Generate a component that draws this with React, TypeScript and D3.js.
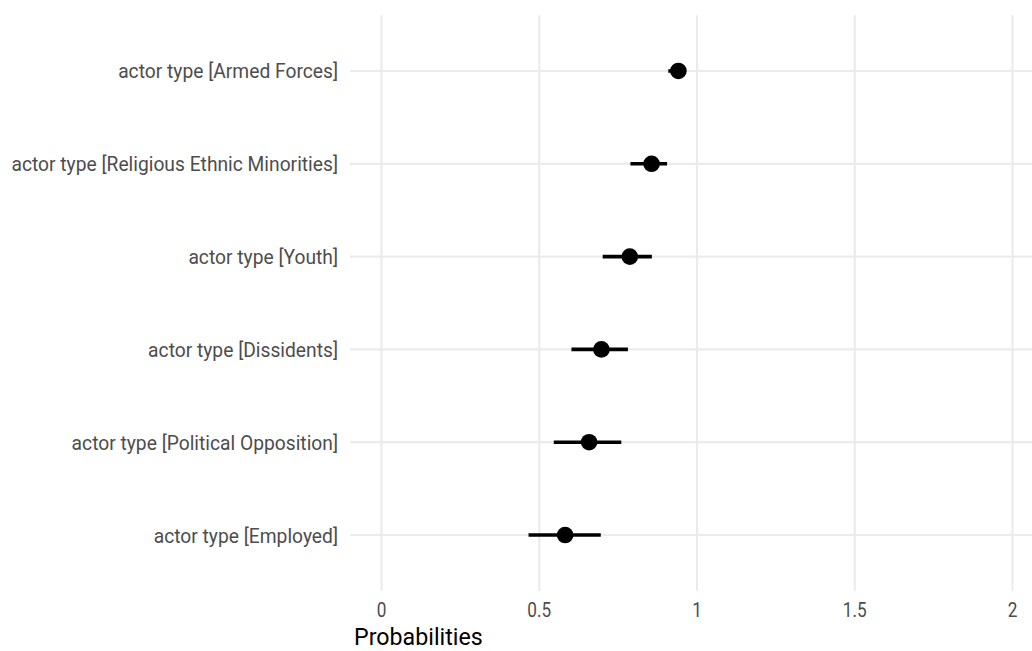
import React from "react";
import * as d3 from "d3";

const categories = [
  "actor type [Armed Forces]",
  "actor type [Religious Ethnic Minorities]",
  "actor type [Youth]",
  "actor type [Dissidents]",
  "actor type [Political Opposition]",
  "actor type [Employed]",
];
const estimates = [0.941, 0.856, 0.787, 0.697, 0.658, 0.582];
const lower = [0.909, 0.789, 0.701, 0.602, 0.546, 0.466];
const upper = [0.955, 0.905, 0.857, 0.781, 0.76, 0.695];
const xTicks = [0, 0.5, 1, 1.5, 2];
const xTickLabels = ["0", "0.5", "1", "1.5", "2"];
const xTitle = "Probabilities";

const W = 1032;
const H = 651;
const panel = { left: 350, right: 1044, top: 15.3, bottom: 590.7 };
const FONT = "Roboto, 'Noto Sans', sans-serif";

export default function App() {
  const x = d3.scaleLinear().domain([-0.1, 2.1]).range([panel.left, panel.right]);
  const y = d3
    .scalePoint<string>()
    .domain(categories)
    .range([panel.top, panel.bottom])
    .padding(0.6);
  const grid = "#ebebeb";
  return (
    <svg
      width={W}
      height={H}
      style={{ position: "absolute", left: 0, top: 0, background: "#fff" }}
      fontFamily={FONT}
    >
      {xTicks.map((t) => (
        <line
          key={"vx" + t}
          x1={x(t)}
          x2={x(t)}
          y1={panel.top}
          y2={panel.bottom}
          stroke={grid}
          strokeWidth={2.2}
        />
      ))}
      {categories.map((c) => (
        <line
          key={"hy" + c}
          x1={panel.left}
          x2={panel.right}
          y1={y(c)}
          y2={y(c)}
          stroke={grid}
          strokeWidth={2.2}
        />
      ))}
      {categories.map((c, i) => (
        <g key={"m" + c}>
          <line
            x1={x(lower[i])}
            x2={x(upper[i])}
            y1={y(c)}
            y2={y(c)}
            stroke="#000"
            strokeWidth={3.6}
          />
          <circle cx={x(estimates[i])} cy={y(c)} r={8.3} fill="#000" />
        </g>
      ))}
      {categories.map((c) => (
        <text
          key={"yl" + c}
          transform={`translate(338,${(y(c) as number) + 7.5}) scale(0.916,1)`}
          textAnchor="end"
          fontSize={21}
          fill="#4d4d4d"
        >
          {c}
        </text>
      ))}
      {xTicks.map((t, i) => (
        <text
          key={"xl" + t}
          transform={`translate(${x(t)},${617}) scale(0.86,1)`}
          textAnchor="middle"
          fontSize={20}
          fill="#4d4d4d"
        >
          {xTickLabels[i]}
        </text>
      ))}
      <text
        transform={`translate(354,645) scale(1.01,1)`}
        fontSize={23}
        fill="#000"
      >
        {xTitle}
      </text>
    </svg>
  );
}
